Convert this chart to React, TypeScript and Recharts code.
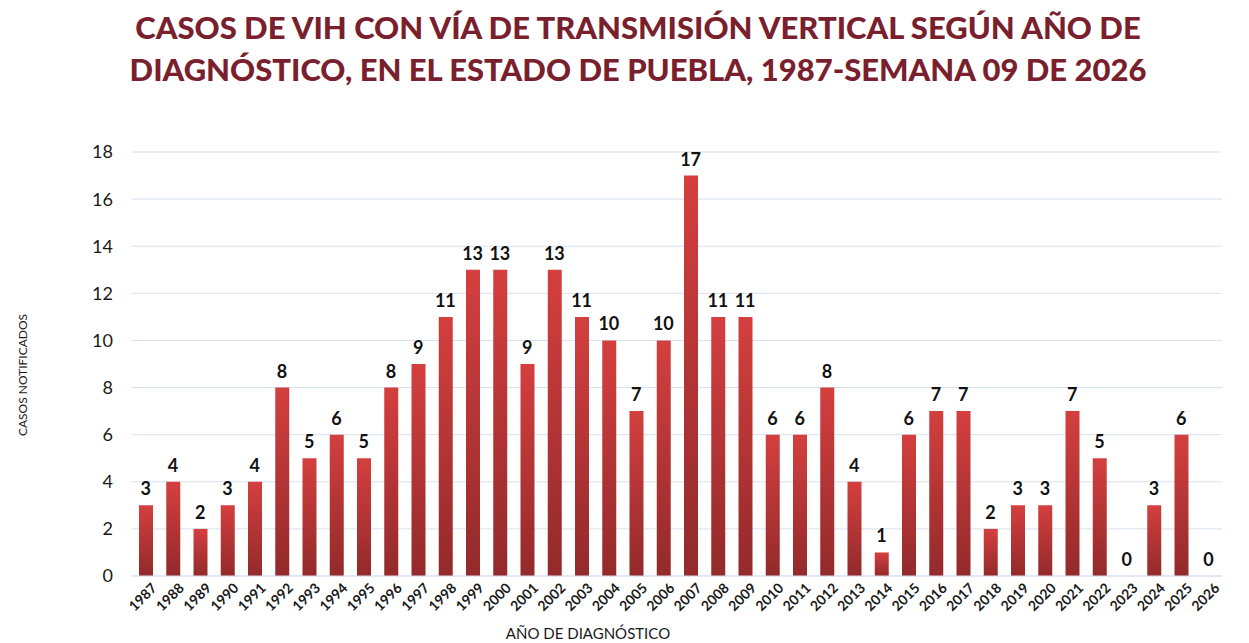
import { ComposedChart, Bar, Line, XAxis, YAxis, CartesianGrid, LabelList } from 'recharts'

const years = [
  '1987', '1988', '1989', '1990', '1991', '1992', '1993', '1994', '1995', '1996',
  '1997', '1998', '1999', '2000', '2001', '2002', '2003', '2004', '2005', '2006',
  '2007', '2008', '2009', '2010', '2011', '2012', '2013', '2014', '2015', '2016',
  '2017', '2018', '2019', '2020', '2021', '2022', '2023', '2024', '2025', '2026',
]

const casos = [
  3, 4, 2, 3, 4, 8, 5, 6, 5, 8,
  9, 11, 13, 13, 9, 13, 11, 10, 7, 10,
  17, 11, 11, 6, 6, 8, 4, 1, 6, 7,
  7, 2, 3, 3, 7, 5, 0, 3, 6, 0,
]

const yTicks = [0, 2, 4, 6, 8, 10, 12, 14, 16, 18]

const data = years.map((year, i) => ({ year, casos: casos[i] }))

const FONT = 'Lato, "Open Sans", sans-serif'

// etiqueta del eje X girada -45°
const YearTick = ({ x, y, payload }: any) => (
  <text
    x={x}
    y={y}
    transform={`rotate(-45, ${x}, ${y})`}
    textAnchor="end"
    dy={12}
    dx={5}
    fontSize={14}
    fontWeight="bold"
    fontFamily={FONT}
    fill="#1a1a1a"
  >
    {payload.value}
  </text>
)

// valor encima de la barra (también para los ceros)
const ValueLabel = ({ x, y, value }: any) => (
  <text
    x={Number(x)}
    y={Number(y) - 10}
    textAnchor="middle"
    fontSize={18}
    fontWeight="bold"
    fontFamily={FONT}
    fill="#111"
  >
    {value}
  </text>
)

export default function App() {
  return (
    <div style={{ position: 'absolute', left: 0, top: 0, width: 1249, height: 643, background: '#fff', fontFamily: FONT }}>
      {/* título */}
      <div
        style={{
          position: 'absolute',
          left: 0,
          top: 6,
          width: 1276,
          textAlign: 'center',
          color: '#7a1f2d',
          fontWeight: 900,
          fontSize: 31,
          lineHeight: '42px',
          fontFamily: FONT,
        }}
      >
        CASOS DE VIH CON VÍA DE TRANSMISIÓN VERTICAL SEGÚN AÑO DE
        <br />
        DIAGNÓSTICO, EN EL ESTADO DE PUEBLA, 1987-SEMANA 09 DE 2026
      </div>

      {/* título eje Y */}
      <div
        style={{
          position: 'absolute',
          left: 22,
          top: 375,
          transform: 'translate(-50%, -50%) rotate(-90deg)',
          whiteSpace: 'nowrap',
          fontSize: 12,
          color: '#1a1a1a',
        }}
      >
        CASOS NOTIFICADOS
      </div>

      {/* título eje X */}
      <div
        style={{
          position: 'absolute',
          left: 588,
          top: 633,
          transform: 'translate(-50%, -50%)',
          whiteSpace: 'nowrap',
          fontSize: 15,
          color: '#1a1a1a',
        }}
      >
        AÑO DE DIAGNÓSTICO
      </div>

      <div style={{ position: 'absolute', left: 0, top: 0 }}>
        <ComposedChart
          width={1249}
          height={643}
          data={data}
          margin={{ top: 152, right: 27, bottom: 0, left: 0 }}
        >
          <defs>
            <linearGradient id="barGrad" x1="0" y1="0" x2="0" y2="1">
              <stop offset="0%" stopColor="#d43f3f" />
              <stop offset="100%" stopColor="#932a2b" />
            </linearGradient>
          </defs>
          <CartesianGrid vertical={false} stroke="#d6e1f0" strokeWidth={1} />
          <XAxis
            dataKey="year"
            interval={0}
            height={67}
            tick={<YearTick />}
            tickLine={false}
            axisLine={{ stroke: '#d6e1f0' }}
          />
          <YAxis
            width={132}
            domain={[0, 18]}
            ticks={yTicks}
            interval={0}
            tickLine={false}
            axisLine={false}
            tickSize={0}
            tickMargin={19}
            tick={{ fontSize: 18, fill: '#1a1a1a', fontFamily: FONT }}
          />
          <Bar dataKey="casos" fill="url(#barGrad)" barSize={14} isAnimationActive={false} />
          {/* serie invisible que solo lleva las etiquetas de valor */}
          <Line
            dataKey="casos"
            stroke="none"
            dot={false}
            activeDot={false}
            legendType="none"
            isAnimationActive={false}
          >
            <LabelList dataKey="casos" content={<ValueLabel />} />
          </Line>
        </ComposedChart>
      </div>
    </div>
  )
}
